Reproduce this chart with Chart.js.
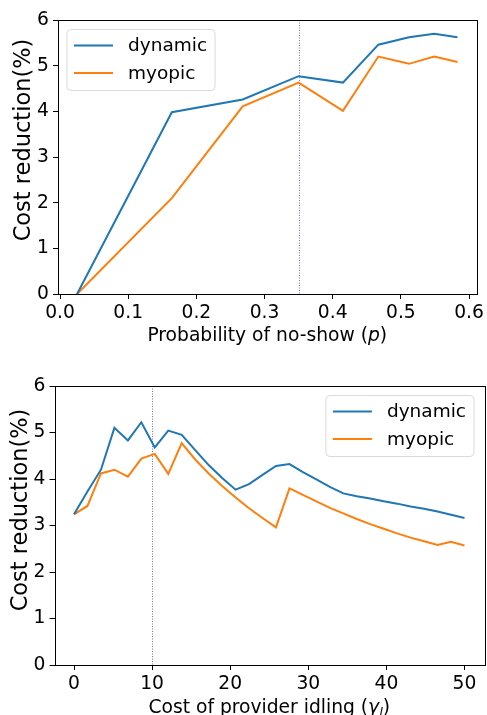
<!DOCTYPE html>
<html lang="en">
<head>
	<meta charset="UTF-8">
	<title>Cost reduction</title>
	<script src="https://cdn.jsdelivr.net/npm/chart.js"></script>
	<style>
		body { margin: 0; background: #fff; overflow: hidden; }
		.panel { position: absolute; left: 0; width: 487px; }
	</style>
</head>
<body>

	<div class="panel" style="top: 0; height: 355px"><canvas id="chartNoShow"></canvas></div>
	<div class="panel" style="top: 355px; height: 360px"><canvas id="chartIdle"></canvas></div>

	<script type="text/javascript">

		// top panel: probability of no-show
		var noShowP = [0.025, 0.164, 0.268, 0.35, 0.415, 0.467, 0.512, 0.549, 0.583];
		var dynamicP = [0, 3.98, 4.26, 4.77, 4.63, 5.46, 5.62, 5.70, 5.62];
		var myopicP = [0, 2.10, 4.11, 4.63, 4.01, 5.20, 5.04, 5.20, 5.08];
		var xTicksP = [0, 0.1, 0.2, 0.3, 0.4, 0.5, 0.6];
		var markP = 0.35;

		// bottom panel: cost of provider idling
		var idleCost = [0, 1.72, 3.45, 5.17, 6.90, 8.62, 10.34, 12.07, 13.79, 15.52, 17.24, 18.97, 20.69, 22.41, 24.14,
			25.86, 27.59, 29.31, 31.03, 32.76, 34.48, 36.21, 37.93, 39.66, 41.38, 43.10, 44.83, 46.55, 48.28, 50];
		var dynamicG = [3.24, 3.73, 4.20, 5.10, 4.83, 5.22, 4.68, 5.04, 4.95, 4.62, 4.30, 4.02, 3.77, 3.89, 4.09,
			4.28, 4.32, 4.15, 3.99, 3.83, 3.69, 3.63, 3.58, 3.52, 3.47, 3.41, 3.36, 3.30, 3.23, 3.16];
		var myopicG = [3.24, 3.42, 4.12, 4.20, 4.05, 4.44, 4.54, 4.11, 4.77, 4.42, 4.12, 3.85, 3.60, 3.37, 3.16,
			2.96, 3.80, 3.66, 3.52, 3.38, 3.26, 3.14, 3.03, 2.93, 2.83, 2.74, 2.66, 2.58, 2.65, 2.57];
		var xTicksG = [0, 10, 20, 30, 40, 50];
		var markG = 10;

		var yTicks = [0, 1, 2, 3, 4, 5, 6];
		var seriesNames = ['dynamic', 'myopic'];
		var yTitle = 'Cost reduction(%)';

		var FONT = '"DejaVu Sans", sans-serif';

		// draws frame, marker line, legend and axis titles the way matplotlib does
		function decor(o) {
			return {
				id: 'decor',
				beforeDatasetsDraw: function (chart) {
					var c = chart.ctx, a = chart.chartArea;
					var px = Math.round(chart.scales.x.getPixelForValue(o.mark)) + 0.5;
					c.save();
					c.strokeStyle = 'rgba(0,0,255,0.6)';
					c.lineWidth = 1;
					c.setLineDash([1, 1.5]);
					c.beginPath();
					c.moveTo(px, a.top);
					c.lineTo(px, a.bottom);
					c.stroke();
					c.restore();
				},
				afterDatasetsDraw: function (chart) {
					var c = chart.ctx, a = chart.chartArea;
					c.save();
					// spines
					c.strokeStyle = '#000';
					c.lineWidth = 1;
					c.strokeRect(Math.round(a.left) + 0.5, Math.round(a.top) + 0.5,
						Math.round(a.right - a.left), Math.round(a.bottom - a.top));

					// legend
					c.font = '18.5px ' + FONT;
					var tw = 0;
					chart.data.datasets.forEach(function (ds) { tw = Math.max(tw, c.measureText(ds.label).width); });
					var w = 61 + tw + 8, h = 61;
					var bx = o.legendLeft ? a.left + 9 : a.right - 10 - w;
					var by = a.top + 9.5;
					c.beginPath();
					c.roundRect(bx, by, w, h, 4);
					c.fillStyle = 'rgba(255,255,255,0.8)';
					c.fill();
					c.strokeStyle = '#d9d9d9';
					c.stroke();
					chart.data.datasets.forEach(function (ds, i) {
						var cy = by + 16 + i * 27.5;
						c.strokeStyle = ds.borderColor;
						c.lineWidth = 2;
						c.beginPath();
						c.moveTo(bx + 7, cy);
						c.lineTo(bx + 46, cy);
						c.stroke();
						c.fillStyle = '#000';
						c.textBaseline = 'middle';
						c.textAlign = 'left';
						c.fillText(ds.label, bx + 61, cy + 1);
					});

					// x title, made of plain and italic parts
					c.textBaseline = 'alphabetic';
					c.textAlign = 'left';
					var total = 0;
					o.xTitle.forEach(function (p) {
						c.font = (p.it ? 'italic ' : '') + p.size + 'px ' + FONT;
						p.w = c.measureText(p.t).width;
						total += p.w;
					});
					var tx = (a.left + a.right) / 2 - total / 2;
					o.xTitle.forEach(function (p) {
						c.font = (p.it ? 'italic ' : '') + p.size + 'px ' + FONT;
						c.fillText(p.t, tx, o.xTitleY + (p.dy || 0));
						tx += p.w;
					});

					// y title
					c.font = '22.5px ' + FONT;
					c.textAlign = 'center';
					c.translate(o.yTitleX, o.yTitleY);
					c.rotate(-Math.PI / 2);
					c.fillText(yTitle, 0, 0);
					c.restore();
				}
			};
		}

		function makeChart(id, xs, dyn, myo, o) {
			var ctx = document.getElementById(id).getContext('2d');
			var tickFont = { family: FONT, size: 18.7 };
			return new Chart(ctx, {
				type: 'line',
				data: {
					datasets: [{
						label: seriesNames[0],
						data: xs.map(function (x, i) { return { x: x, y: dyn[i] }; }),
						borderColor: '#1f77b4',
						borderWidth: 2,
						pointRadius: 0,
						tension: 0,
						fill: false
					}, {
						label: seriesNames[1],
						data: xs.map(function (x, i) { return { x: x, y: myo[i] }; }),
						borderColor: '#ff7f0e',
						borderWidth: 2,
						pointRadius: 0,
						tension: 0,
						fill: false
					}]
				},
				options: {
					responsive: true,
					maintainAspectRatio: false,
					animation: false,
					layout: { padding: { left: 0, right: o.padRight, top: o.padTop, bottom: 0 } },
					plugins: { legend: { display: false }, tooltip: { enabled: false } },
					scales: {
						x: {
							type: 'linear',
							min: o.xMin,
							max: o.xMax,
							afterBuildTicks: function (s) { s.ticks = o.xTicks.map(function (v) { return { value: v }; }); },
							afterFit: function (s) { s.height = o.xAxisH; },
							grid: { drawOnChartArea: false, drawTicks: true, tickLength: 5, color: '#000', lineWidth: 1 },
							border: { display: false },
							ticks: { color: '#000', font: tickFont, padding: 3, maxRotation: 0, autoSkip: false, callback: o.xFmt }
						},
						y: {
							min: 0,
							max: 6,
							afterBuildTicks: function (s) { s.ticks = yTicks.map(function (v) { return { value: v }; }); },
							afterFit: function (s) { s.width = o.yAxisW; },
							grid: { drawOnChartArea: false, drawTicks: true, tickLength: 5, color: '#000', lineWidth: 1 },
							border: { display: false },
							ticks: { color: '#000', font: tickFont, padding: 4, callback: function (v) { return String(v); } }
						}
					}
				},
				plugins: [decor(o)]
			});
		}

		makeChart('chartNoShow', noShowP, dynamicP, myopicP, {
			xMin: -0.003, xMax: 0.611, xTicks: xTicksP,
			xFmt: function (v) { return v.toFixed(1); },
			mark: markP, legendLeft: true,
			padTop: 20, padRight: 7, yAxisW: 58, xAxisH: 61,
			xTitleY: 341, yTitleX: 30, yTitleY: 140,
			xTitle: [{ t: 'Probability of no-show (', size: 18.7 }, { t: 'p', it: true, size: 18.7 }, { t: ')', size: 18.7 }]
		});

		makeChart('chartIdle', idleCost, dynamicG, myopicG, {
			xMin: -2.5, xMax: 52.5, xTicks: xTicksG,
			xFmt: function (v) { return String(v); },
			mark: markG, legendLeft: false,
			padTop: 31, padRight: 3, yAxisW: 54.5, xAxisH: 50,
			xTitleY: 358, yTitleX: 26.5, yTitleY: 155,
			xTitle: [{ t: 'Cost of provider idling (', size: 18.7 }, { t: 'γ', it: true, size: 18.7 },
				{ t: 'l', it: true, size: 13, dy: 4 }, { t: ')', size: 18.7 }]
		});
	</script>

</body>
</html>
